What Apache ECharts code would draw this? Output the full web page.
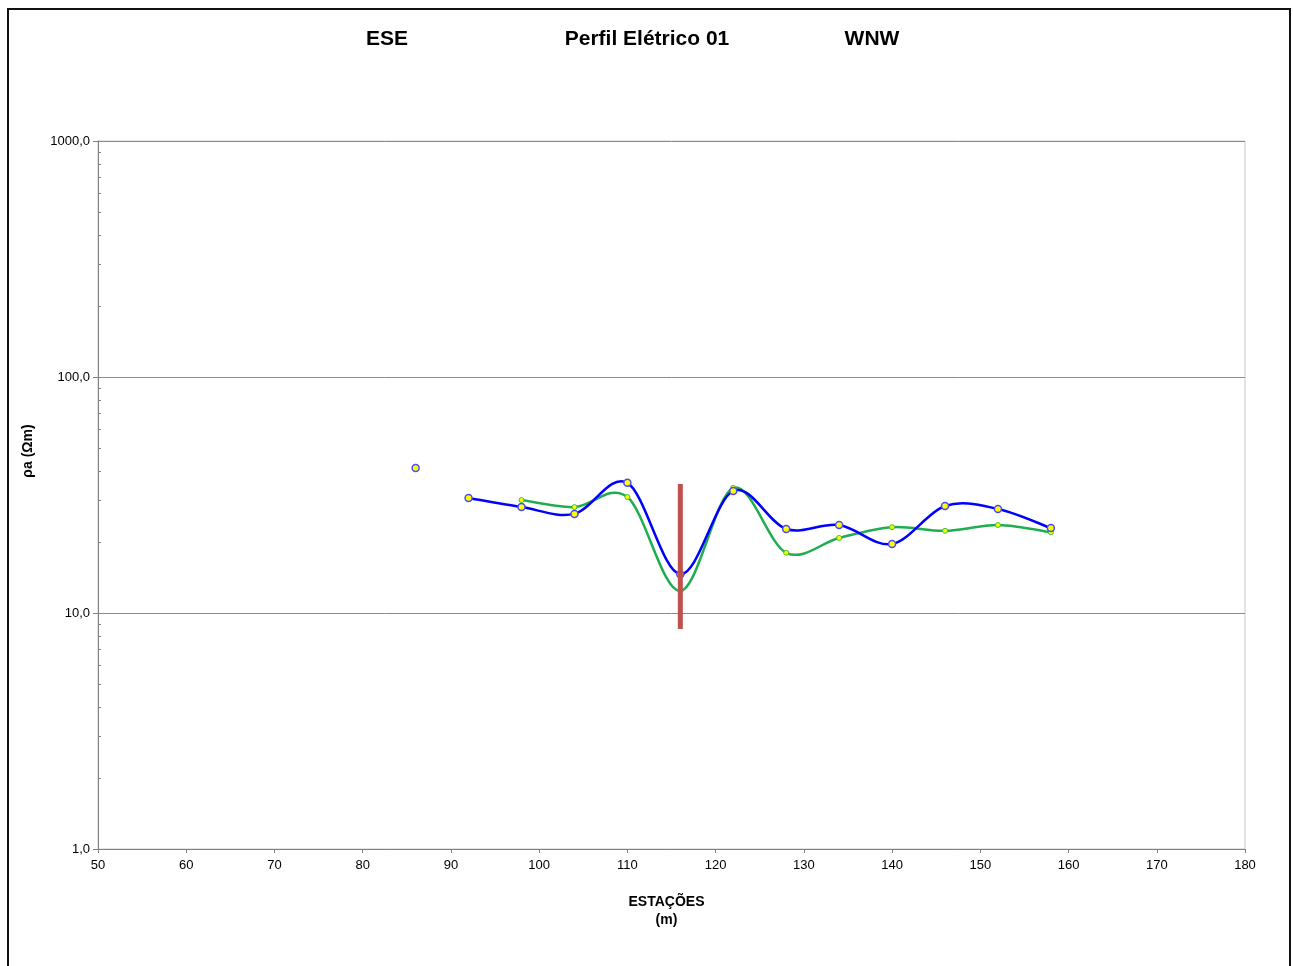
<!DOCTYPE html>
<html>
<head>
<meta charset="utf-8">
<title>Perfil Elétrico 01</title>
<script src="https://cdn.jsdelivr.net/npm/echarts@6/dist/echarts.min.js"></script>
<style>
  html, body { margin: 0; padding: 0; background: #fff; }
  #chart { width: 1293px; height: 966px; }
</style>
</head>
<body>
<div id="chart"></div>
<script>
// estações (m)
var stations = [92, 98, 104, 110, 116, 122, 128, 134, 140, 146, 152, 158];
var blueValues = [30.7, 28.1, 26.3, 35.6, 14.6, 32.9, 22.7, 23.6, 19.6, 28.4, 27.6, 22.9];
var greenStations = [98, 104, 110, 116, 122, 128, 134, 140, 146, 152, 158];
var greenValues = [30.1, 28.1, 31.0, 12.4, 33.9, 18.0, 20.8, 23.1, 22.3, 23.6, 22.0];
// ponto isolado
var isolatedStation = [86];
var isolatedValue = [41.2];
// marcador vertical (anomalia)
var markerStation = [116, 116];
var markerValues = [35.2, 8.55];
// ticks
var yTicks = [1, 10, 100, 1000];
var yMinorTicks = [2, 3, 4, 5, 6, 7, 8, 9, 20, 30, 40, 50, 60, 70, 80, 90, 200, 300, 400, 500, 600, 700, 800, 900];

var FONT = 'Arial, "Liberation Sans", sans-serif';

function pairs(xs, ys) {
  return xs.map(function (x, i) { return [x, ys[i]]; });
}

// curva suavizada estilo Excel (Catmull-Rom -> Bezier), pontos passam pela escala do eixo
function smoothCurve(xs, ys, color) {
  return function (params, api) {
    var p = xs.map(function (x, i) { return api.coord([x, ys[i]]); });
    var n = p.length;
    var d = 'M' + p[0][0] + ',' + p[0][1];
    for (var i = 0; i < n - 1; i++) {
      var p0 = p[i - 1] || p[i];
      var p1 = p[i];
      var p2 = p[i + 1];
      var p3 = p[i + 2] || p[i + 1];
      var c1x = p1[0] + (p2[0] - p0[0]) / 6;
      var c1y = p1[1] + (p2[1] - p0[1]) / 6;
      var c2x = p2[0] - (p3[0] - p1[0]) / 6;
      var c2y = p2[1] - (p3[1] - p1[1]) / 6;
      d += ' C' + c1x + ',' + c1y + ' ' + c2x + ',' + c2y + ' ' + p2[0] + ',' + p2[1];
    }
    return {
      type: 'path',
      shape: { pathData: d },
      style: { stroke: color, fill: null, lineWidth: 2.5 }
    };
  };
}

var chart = echarts.init(document.getElementById('chart'));

var labelFont = { fontFamily: FONT, fontSize: 13, color: '#000' };
var titleFont = { fontFamily: FONT, fontSize: 21, fontWeight: 'bold', color: '#000' };

var option = {
  backgroundColor: '#fff',
  animation: false,
  title: [
    { text: 'ESE', left: 382, top: 24, textAlign: 'center', textStyle: titleFont },
    { text: 'Perfil Elétrico 01', left: 642, top: 24, textAlign: 'center', textStyle: titleFont },
    { text: 'WNW', left: 867, top: 24, textAlign: 'center', textStyle: titleFont }
  ],
  graphic: [
    {
      type: 'rect',
      shape: { x: 8, y: 9, width: 1282, height: 980 },
      style: { fill: 'none', stroke: '#111', lineWidth: 2 },
      silent: true,
      z: 0
    },
    {
      type: 'text',
      x: 28, y: 451,
      rotation: Math.PI / 2,
      style: {
        text: 'ρa (Ωm)',
        font: 'bold 14px ' + FONT,
        fill: '#000',
        align: 'center',
        verticalAlign: 'middle'
      }
    }
  ],
  grid: {
    left: 98, right: 48, top: 141, bottom: 117,
    show: true,
    borderColor: '#c8c8c8',
    borderWidth: 1
  },
  xAxis: {
    type: 'value',
    min: 50, max: 180, interval: 10,
    name: 'ESTAÇÕES\n(m)',
    nameLocation: 'middle',
    nameGap: 44,
    nameTextStyle: { fontFamily: FONT, fontSize: 14, fontWeight: 'bold', color: '#000', lineHeight: 18, padding: [0, 10, 0, 0] },
    axisLine: { lineStyle: { color: '#808080', width: 1 } },
    axisTick: { length: 4, lineStyle: { color: '#808080' } },
    axisLabel: Object.assign({}, labelFont, { margin: 10 }),
    splitLine: { show: false }
  },
  yAxis: [
    {
      type: 'log',
      logBase: 10,
      min: 1, max: 1000,
      axisLine: { show: true, lineStyle: { color: '#808080', width: 1 } },
      axisTick: { length: 5, lineStyle: { color: '#808080' }, customValues: yTicks },
      axisLabel: Object.assign({}, labelFont, {
        customValues: yTicks,
        formatter: function (v) { return v.toFixed(1).replace('.', ','); }
      }),
      splitLine: { show: true, lineStyle: { color: '#8c8c8c', width: 1 } }
    },
    {
      type: 'log',
      logBase: 10,
      min: 1, max: 1000,
      position: 'left',
      axisLine: { show: false },
      axisTick: { show: true, inside: true, length: 3, lineStyle: { color: '#808080' }, customValues: yMinorTicks },
      axisLabel: { show: false },
      splitLine: { show: false }
    }
  ],
  series: [
    {
      type: 'custom',
      renderItem: smoothCurve(greenStations, greenValues, '#1fae4f'),
      data: [[greenStations[0], greenValues[0]]],
      z: 2
    },
    {
      type: 'custom',
      renderItem: smoothCurve(stations, blueValues, '#0000ff'),
      data: [[stations[0], blueValues[0]]],
      z: 3
    },
    {
      type: 'scatter',
      data: pairs(greenStations, greenValues),
      symbol: 'circle',
      symbolSize: 5,
      itemStyle: { color: '#ffff00', borderColor: '#3cc43c', borderWidth: 1, opacity: 1 },
      z: 4
    },
    {
      type: 'scatter',
      data: pairs(stations, blueValues).concat(pairs(isolatedStation, isolatedValue)),
      symbol: 'circle',
      symbolSize: 7,
      itemStyle: { color: '#ffff00', borderColor: '#4a4aff', borderWidth: 1.5, opacity: 1 },
      z: 5
    },
    {
      type: 'line',
      data: pairs(markerStation, markerValues),
      symbol: 'none',
      lineStyle: { color: '#c0504d', width: 5 },
      z: 6
    }
  ]
};

chart.setOption(option);
</script>
</body>
</html>
